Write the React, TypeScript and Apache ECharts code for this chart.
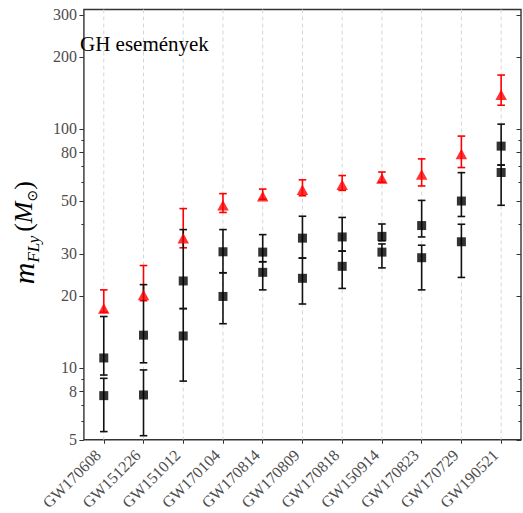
import React, { useEffect, useRef } from "react";
import * as echarts from "echarts";

const categories = [
  "GW170608", "GW151226", "GW151012", "GW170104", "GW170814", "GW170809",
  "GW170818", "GW150914", "GW170823", "GW170729", "GW190521",
];

const redMid = [17.7, 20.2, 34.9, 47.9, 52.3, 55.7, 58.4, 62.0, 64.4, 78.5, 139];
const redLow = [17.1, 19.1, 31.8, 44.7, 50.8, 52.5, 55.3, 59.8, 57.7, 68.9, 125.6];
const redHigh = [21.2, 26.8, 46.4, 53.6, 56.0, 61.2, 63.8, 66.0, 74.9, 93.3, 168];

const blackAMid = [11.0, 13.7, 23.1, 30.6, 30.5, 34.9, 35.3, 35.5, 39.4, 49.9, 84.7];
const blackALow = [9.33, 10.5, 17.7, 25.0, 27.8, 28.8, 30.8, 34.0, 35.3, 43.0, 70.6];
const blackAHigh = [16.4, 22.3, 37.9, 37.9, 36.1, 43.1, 42.6, 40.0, 50.2, 65.6, 104.7];

const blackBMid = [7.65, 7.7, 13.6, 19.9, 25.1, 23.7, 26.6, 30.5, 28.9, 33.7, 65.7];
const blackBLow = [5.41, 5.2, 8.8, 15.3, 21.2, 18.5, 21.5, 26.2, 21.2, 23.9, 47.9];
const blackBHigh = [9.04, 9.8, 17.7, 25.0, 27.8, 28.8, 30.8, 33.0, 32.6, 39.9, 70.6];

const yLabelTicks = [5, 8, 10, 20, 30, 50, 80, 100, 200, 300];
const yMinorTicks = [6, 7, 9, 40, 60, 70, 90];

const Y_MIN = 5;
const Y_MAX = 316;
const SERIF = "'Liberation Serif', 'DejaVu Serif', serif";
const AXIS_COLOR = "#333333";

function errorBarSeries(name: string, low: number[], high: number[], color: string, z: number) {
  return {
    name,
    type: "custom",
    z,
    silent: true,
    data: categories.map((_, i) => [i, low[i], high[i]]),
    renderItem: (params: any, api: any) => {
      const idx = api.value(0);
      const pLow = api.coord([idx, api.value(1)]);
      const pHigh = api.coord([idx, api.value(2)]);
      const x = pLow[0];
      const hw = 3.8;
      const style = { stroke: color, lineWidth: 1.6 };
      return {
        type: "group",
        children: [
          { type: "line", shape: { x1: x, y1: pLow[1], x2: x, y2: pHigh[1] }, style },
          { type: "line", shape: { x1: x - hw, y1: pLow[1], x2: x + hw, y2: pLow[1] }, style },
          { type: "line", shape: { x1: x - hw, y1: pHigh[1], x2: x + hw, y2: pHigh[1] }, style },
        ],
      };
    },
  };
}

function yAxisDef(position: "left" | "right", ticks: number[], len: number, inside: boolean, labels: boolean) {
  return {
    type: "log",
    logBase: 10,
    min: Y_MIN,
    max: Y_MAX,
    position,
    axisLine: { show: false },
    splitLine: { show: false },
    axisTick: {
      show: true,
      inside,
      length: len,
      customValues: ticks,
      lineStyle: { color: AXIS_COLOR, width: 1 },
    },
    axisLabel: labels
      ? {
          show: true,
          customValues: yLabelTicks,
          margin: 7,
          fontFamily: SERIF,
          fontSize: 16,
          color: "#4d4d4d",
          formatter: (v: number) => String(Math.round(v)),
        }
      : { show: false },
  };
}

export default function App() {
  const ref = useRef<HTMLDivElement>(null);

  useEffect(() => {
    if (!ref.current) return;
    const chart = echarts.init(ref.current, null, { renderer: "svg" });
    const option: any = {
      animation: false,
      backgroundColor: "#ffffff",
      title: {
        text: "GH események",
        left: 80,
        top: 33,
        padding: 0,
        textStyle: { fontFamily: SERIF, fontSize: 21, fontWeight: "normal", color: "#000" },
      },
      grid: {
        left: 68,
        right: 2,
        top: 9.5,
        bottom: 65,
        show: true,
        borderColor: AXIS_COLOR,
        borderWidth: 1.4,
        backgroundColor: "transparent",
      },
      xAxis: {
        type: "category",
        data: categories,
        boundaryGap: true,
        axisLine: { show: false },
        splitLine: { show: false },
        axisTick: {
          show: true,
          alignWithLabel: true,
          length: 4,
          lineStyle: { color: AXIS_COLOR, width: 1 },
        },
        axisLabel: {
          rotate: 45,
          margin: 7,
          padding: [0, 8, 0, 0],
          fontFamily: SERIF,
          fontSize: 16,
          color: "#4d4d4d",
        },
      },
      yAxis: [
        {
          ...yAxisDef("left", yLabelTicks, 4.5, false, true),
          name: "{m|m}{sub|FLy}{sp| }{p|(}{M|M}{sub2|⊙}{p|)}",
          nameLocation: "middle",
          nameRotate: 90,
          nameGap: 32,
          nameTextStyle: {
            padding: [0, 16, 0, 0],
            rich: {
              m: { fontFamily: SERIF, fontStyle: "italic", fontSize: 30, color: "#000", verticalAlign: "top", lineHeight: 30 },
              sub: { fontFamily: SERIF, fontStyle: "italic", fontSize: 17, color: "#000", verticalAlign: "top", padding: [17, 0, 0, 0] },
              sp: { fontSize: 14 },
              p: { fontFamily: SERIF, fontSize: 26, color: "#000", verticalAlign: "top", padding: [2, 0, 0, 0] },
              M: { fontFamily: SERIF, fontStyle: "italic", fontSize: 26, color: "#000", verticalAlign: "top", padding: [2, 0, 0, 0] },
              sub2: { fontFamily: "'DejaVu Sans', sans-serif", fontSize: 14, color: "#000", verticalAlign: "top", padding: [17, 0, 0, 0] },
            },
          },
        },
        yAxisDef("left", yMinorTicks, 2.5, false, false),
        yAxisDef("right", yLabelTicks, 4.5, true, false),
        yAxisDef("right", yMinorTicks, 2.5, true, false),
      ],
      series: [
        {
          name: "grid",
          type: "custom",
          z: 0,
          silent: true,
          data: categories.map((_, i) => [i, 10]),
          renderItem: (params: any, api: any) => {
            const x = api.coord([api.value(0), 10])[0];
            const cs = params.coordSys;
            return {
              type: "line",
              shape: { x1: x, y1: cs.y, x2: x, y2: cs.y + cs.height },
              style: { stroke: "#d6d6d6", lineWidth: 1, lineDash: [4, 3] },
            };
          },
        },
        errorBarSeries("redErr", redLow, redHigh, "#ff0000", 1),
        errorBarSeries("blackAErr", blackALow, blackAHigh, "#111111", 2),
        errorBarSeries("blackBErr", blackBLow, blackBHigh, "#111111", 2),
        {
          name: "blackA",
          type: "scatter",
          z: 3,
          symbol: "rect",
          symbolSize: 9,
          itemStyle: { color: "#000" },
          data: categories.map((_, i) => [i, blackAMid[i]]),
        },
        {
          name: "blackB",
          type: "scatter",
          z: 3,
          symbol: "rect",
          symbolSize: 9,
          itemStyle: { color: "#000" },
          data: categories.map((_, i) => [i, blackBMid[i]]),
        },
        {
          name: "red",
          type: "scatter",
          z: 4,
          symbol: "triangle",
          symbolSize: [11.5, 10.5],
          itemStyle: { color: "#ff0000" },
          data: categories.map((_, i) => [i, redMid[i]]),
        },
      ],
    };
    chart.setOption(option);
    return () => chart.dispose();
  }, []);

  return (
    <div
      ref={ref}
      style={{ position: "fixed", left: 0, top: 0, width: 523, height: 513, background: "#fff" }}
    />
  );
}
